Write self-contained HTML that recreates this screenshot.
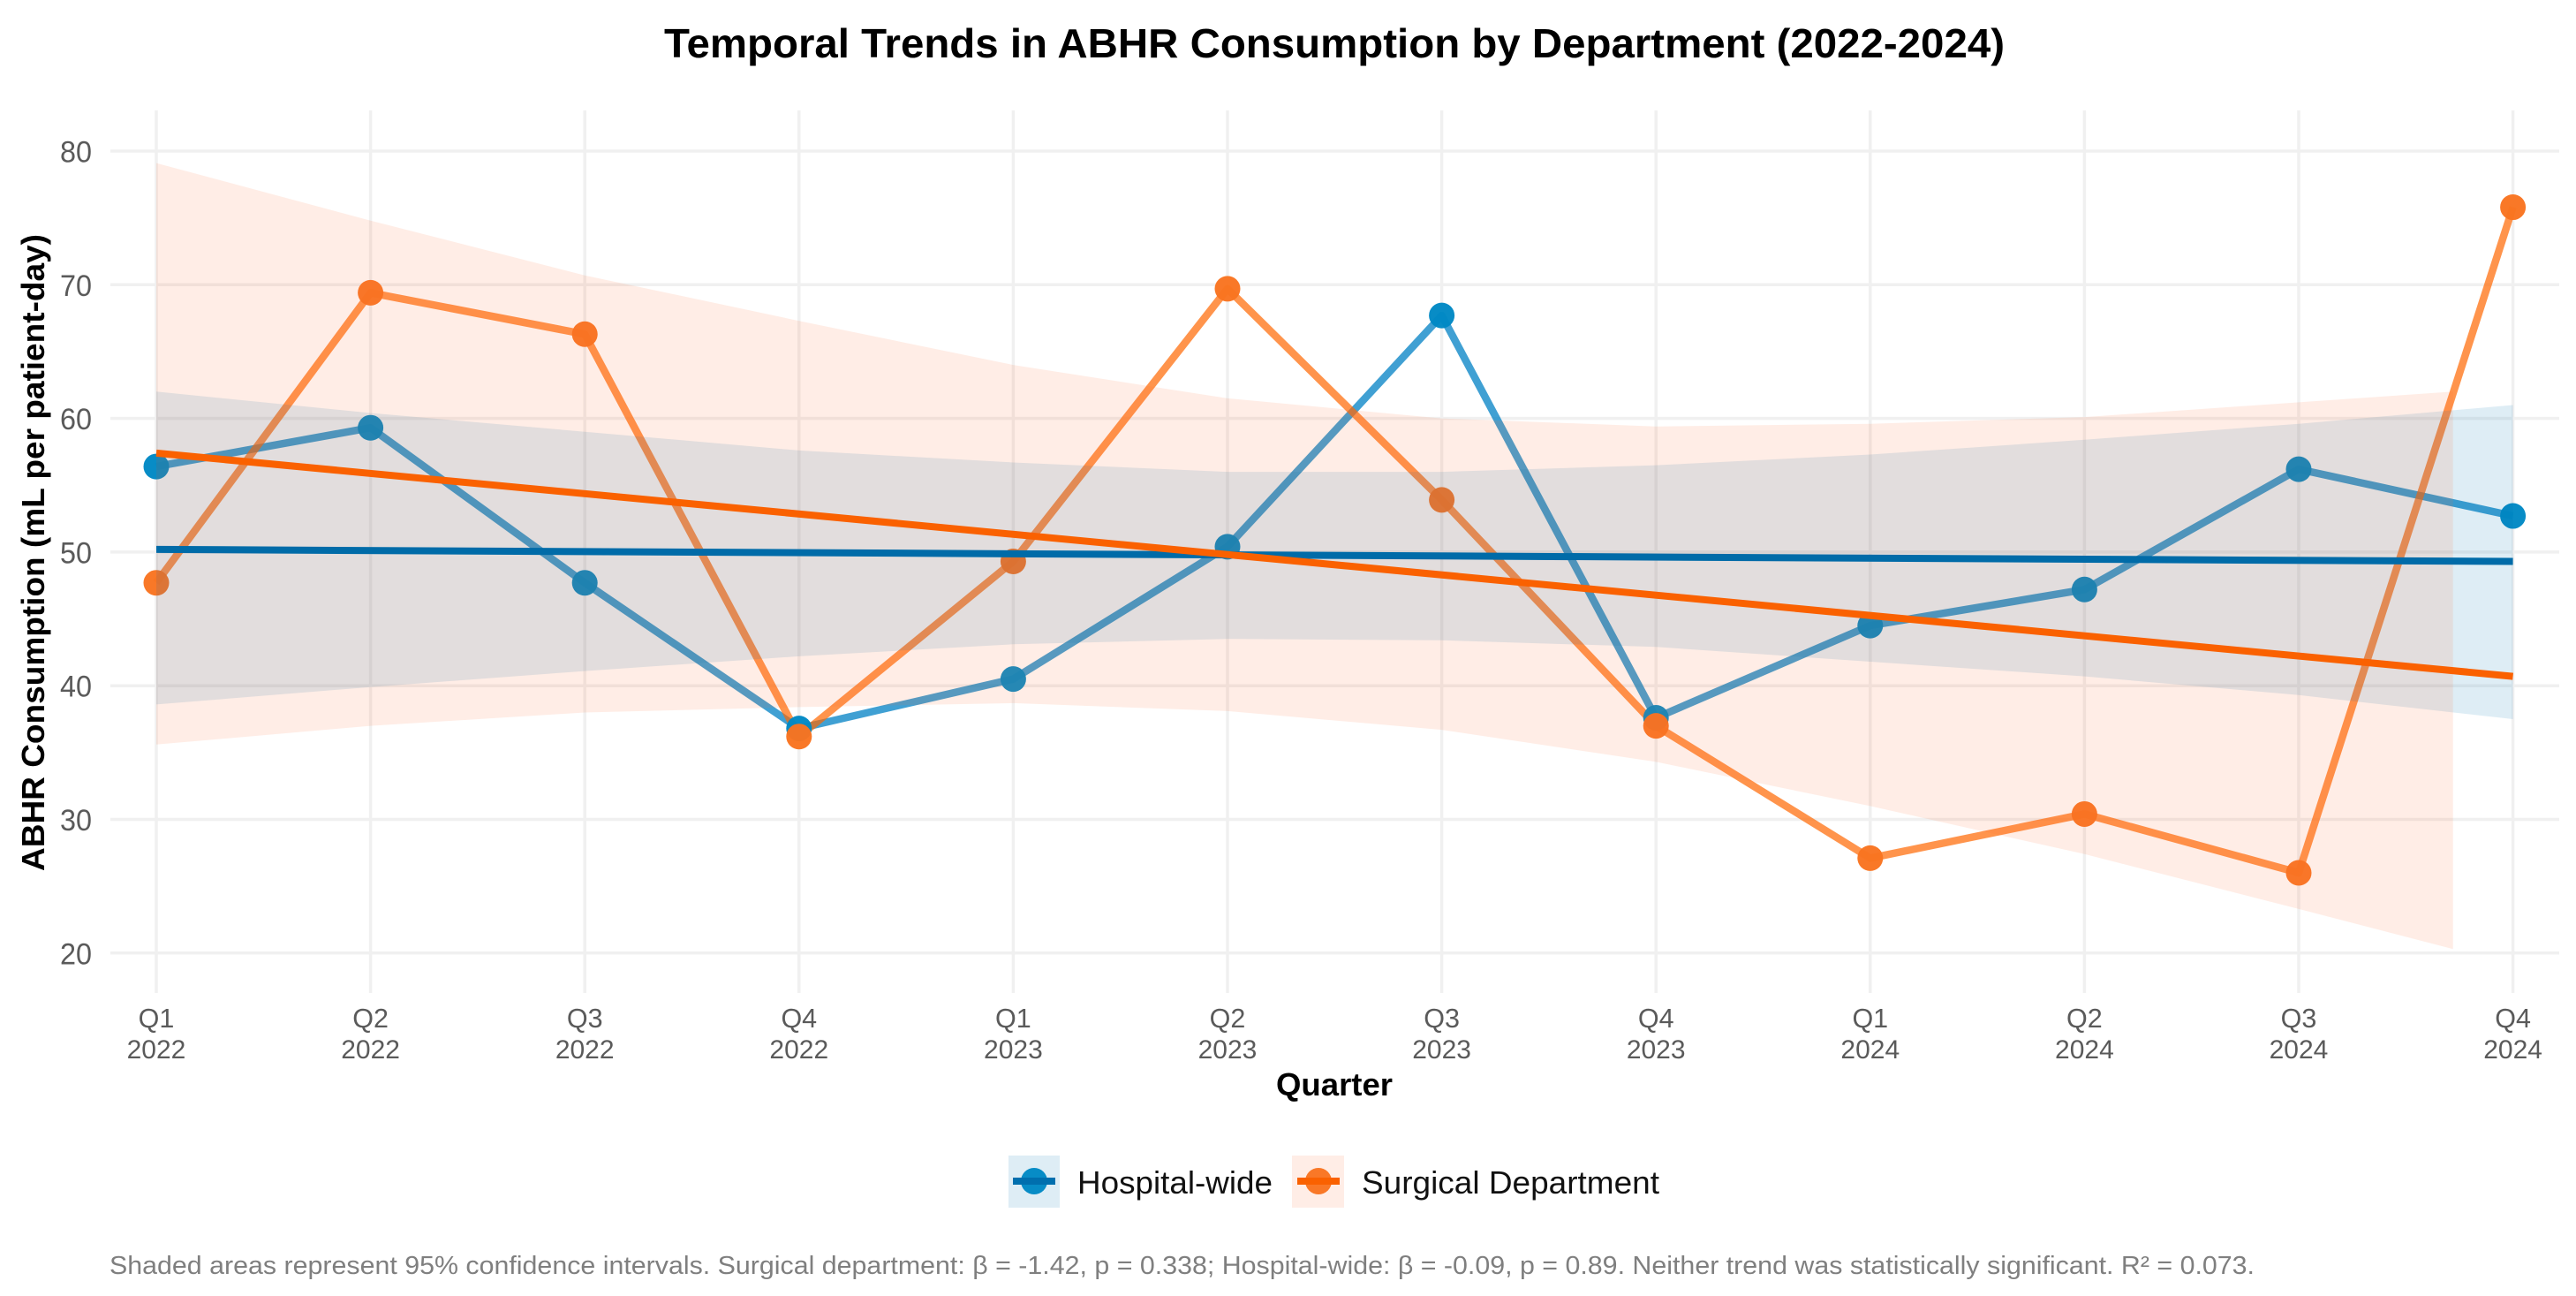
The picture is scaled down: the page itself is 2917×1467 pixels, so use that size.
<!DOCTYPE html>
<html lang="en">
<head>
<meta charset="utf-8">
<title>Temporal Trends in ABHR Consumption by Department (2022-2024)</title>
<style>
  html, body { margin: 0; padding: 0; background: #ffffff; }
  svg { display: block; }
  text { font-family: "Liberation Sans", Arial, sans-serif; }
</style>
</head>
<body>
<svg id="chart" xmlns="http://www.w3.org/2000/svg" width="2917" height="1467" viewBox="0 0 2917 1467">
  <rect x="0" y="0" width="2917" height="1467" fill="#ffffff"/>
  <text x="752" y="65" font-size="46" font-weight="700" fill="#000000" textLength="1518" lengthAdjust="spacingAndGlyphs">Temporal Trends in ABHR Consumption by Department (2022-2024)</text>
  <g id="grid"></g>
  <g id="y-ticks"></g>
  <g id="x-ticks"></g>
  <g id="marks"></g>
  <text transform="translate(50,986) rotate(-90)" font-size="36" font-weight="700" fill="#000000" textLength="721" lengthAdjust="spacingAndGlyphs">ABHR Consumption (mL per patient-day)</text>
  <text x="1445" y="1240" font-size="36" font-weight="700" fill="#000000" textLength="132" lengthAdjust="spacingAndGlyphs">Quarter</text>
  <g>
    <g>
      <rect x="1142" y="1308" width="58" height="59" fill="#0072B2" fill-opacity="0.13"/>
      <circle cx="1171" cy="1337" r="15" fill="#0088C4" fill-opacity="0.97"/>
      <line x1="1147" y1="1337" x2="1195" y2="1337" stroke="#006FAE" stroke-width="8"/>
      <text x="1220" y="1351" font-size="36" fill="#111111" textLength="221" lengthAdjust="spacingAndGlyphs">Hospital-wide</text>
    </g>
    <g>
      <rect x="1463" y="1308" width="59" height="59" fill="#FF6B35" fill-opacity="0.12"/>
      <circle cx="1493" cy="1337" r="15" fill="#F97420" fill-opacity="0.97"/>
      <line x1="1469" y1="1337" x2="1517" y2="1337" stroke="#FA6100" stroke-width="8"/>
      <text x="1542" y="1351" font-size="36" fill="#111111" textLength="337" lengthAdjust="spacingAndGlyphs">Surgical Department</text>
    </g>
  </g>
  <text x="124" y="1442" font-size="29" fill="#7f7f7f" textLength="2429" lengthAdjust="spacingAndGlyphs">Shaded areas represent 95% confidence intervals. Surgical department: β = -1.42, p = 0.338; Hospital-wide: β = -0.09, p = 0.89. Neither trend was statistically significant. R² = 0.073.</text>
</svg>
<script>
const quarterLabels = ["Q1","Q2","Q3","Q4","Q1","Q2","Q3","Q4","Q1","Q2","Q3","Q4"];
const yearLabels = ["2022","2022","2022","2022","2023","2023","2023","2023","2024","2024","2024","2024"];
const yTickValues = [20,30,40,50,60,70,80];

const hospitalValues = [56.4,59.3,47.7,36.8,40.5,50.4,67.7,37.6,44.5,47.2,56.2,52.7];
const surgicalValues = [47.7,69.4,66.3,36.2,49.3,69.7,53.9,37.0,27.1,30.4,26.0,75.8];

const trendQuarters = [0,11];
const hospitalTrend = [50.2,49.3];
const surgicalTrend = [57.4,40.7];

const hospitalBandQuarters = [0,1,2,3,4,5,6,7,8,9,10,11];
const hospitalBandUpper = [62.0,60.4,59.0,57.6,56.7,56.0,56.0,56.5,57.3,58.4,59.6,61.0];
const hospitalBandLower = [38.6,39.9,41.1,42.2,43.1,43.5,43.4,42.9,41.8,40.7,39.3,37.5];

const surgicalBandQuarters = [0,1,2,3,4,5,6,7,8,9,10,10.72];
const surgicalBandUpper = [79.1,74.8,70.7,67.3,64.0,61.5,60.0,59.4,59.6,60.1,61.2,62.0];
const surgicalBandLower = [35.6,37.0,38.0,38.4,38.7,38.1,36.7,34.3,31.0,27.4,23.3,20.3];

const NS = "http://www.w3.org/2000/svg";

function xScale(q) { return 177 + q * 242.6; }
function yScale(v) { return 171 + (80 - v) * 15.13; }

function make(tag, parent, attrs) {
  const el = document.createElementNS(NS, tag);
  for (const k in attrs) el.setAttribute(k, attrs[k]);
  parent.appendChild(el);
  return el;
}

function linePoints(qs, vs) {
  return qs.map(function (q, i) { return xScale(q).toFixed(1) + "," + yScale(vs[i]).toFixed(1); }).join(" ");
}

function bandPoints(qs, upper, lower) {
  const top = qs.map(function (q, i) { return xScale(q).toFixed(1) + "," + yScale(upper[i]).toFixed(1); });
  const bottom = qs.map(function (q, i) { return xScale(q).toFixed(1) + "," + yScale(lower[i]).toFixed(1); }).reverse();
  return top.concat(bottom).join(" ");
}

const allQuarters = quarterLabels.map(function (_, i) { return i; });
const grid = document.getElementById("grid");
const yTicks = document.getElementById("y-ticks");
const xTicks = document.getElementById("x-ticks");
const marks = document.getElementById("marks");

yTickValues.forEach(function (v) {
  const g = make("line", grid, { x1: 125, x2: 2898, y1: yScale(v), y2: yScale(v), stroke: "#f0f0f0", "stroke-width": 3.5 });
  
  
  const t = make("text", yTicks, { x: 68, y: yScale(v) + 12.5, "font-size": 34, fill: "#5a5a5a", textLength: 36, lengthAdjust: "spacingAndGlyphs" });
  
  
  t.textContent = String(v);
});

allQuarters.forEach(function (q) {
  const g = make("line", grid, { x1: xScale(q), x2: xScale(q), y1: 125, y2: 1124, stroke: "#f0f0f0", "stroke-width": 3.5 });
  
  
  const a = make("text", xTicks, { x: xScale(q), y: 1163, "text-anchor": "middle", "font-size": 30.5, fill: "#5a5a5a" });
  
  
  a.textContent = quarterLabels[q];
  const b = make("text", xTicks, { x: xScale(q), y: 1198, "text-anchor": "middle", "font-size": 30, fill: "#5a5a5a" });
  
  
  b.textContent = yearLabels[q];
});

const hospitalLine = make("polyline", marks, { points: linePoints(allQuarters, hospitalValues), fill: "none", stroke: "#0080C4", "stroke-opacity": 0.75, "stroke-width": 8.5, "stroke-linejoin": "round" });



const surgicalLine = make("polyline", marks, { points: linePoints(allQuarters, surgicalValues), fill: "none", stroke: "#FF6600", "stroke-opacity": 0.7, "stroke-width": 8.5, "stroke-linejoin": "round" });



hospitalValues.forEach(function (v, i) {
  const dot = make("circle", marks, { cx: xScale(i), cy: yScale(v), r: 14.5, fill: "#0088C4", "fill-opacity": 0.97 });
  
  
});

surgicalValues.forEach(function (v, i) {
  const dot = make("circle", marks, { cx: xScale(i), cy: yScale(v), r: 14.5, fill: "#F97420", "fill-opacity": 0.97 });
  
  
});

const hospitalBand = make("polygon", marks, { points: bandPoints(hospitalBandQuarters, hospitalBandUpper, hospitalBandLower), fill: "#0072B2", "fill-opacity": 0.13 });



const surgicalBand = make("polygon", marks, { points: bandPoints(surgicalBandQuarters, surgicalBandUpper, surgicalBandLower), fill: "#FF6B35", "fill-opacity": 0.12 });



const hospitalTrendLine = make("polyline", marks, { points: linePoints(trendQuarters, hospitalTrend), fill: "none", stroke: "#006BA8", "stroke-width": 8 });



const surgicalTrendLine = make("polyline", marks, { points: linePoints(trendQuarters, surgicalTrend), fill: "none", stroke: "#FA6100", "stroke-width": 8 });


</script>
</body>
</html>
